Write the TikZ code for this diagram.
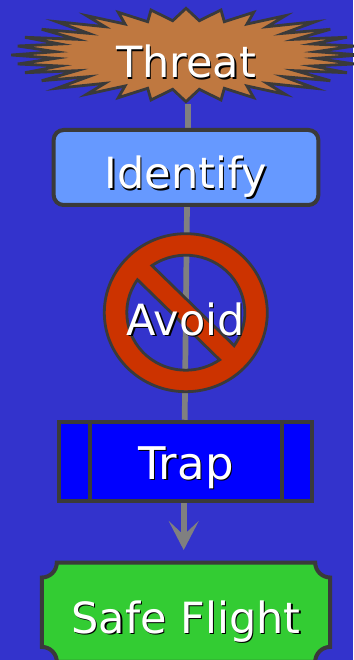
\documentclass[tikz,border=0pt]{standalone}
\usepackage{fontspec}
\setmainfont{DejaVu Sans}
\usetikzlibrary{arrows.meta,backgrounds}

\definecolor{skyback}{HTML}{3333CC}
\definecolor{edgedark}{HTML}{3A3A3A}
\definecolor{linkgray}{HTML}{808080}
\definecolor{threatfill}{HTML}{BF7840}
\definecolor{identifyfill}{HTML}{6699FF}
\definecolor{avoidfill}{HTML}{CC3300}
\definecolor{trapfill}{HTML}{0000FF}
\definecolor{safefill}{HTML}{33CC33}

% white label with a small black drop shadow
\newcommand{\droptext}[1]{\leavevmode\rlap{\hspace{1.4pt}\raisebox{-1.6pt}{\color{black}#1}}\color{white}#1}

\begin{document}
\begin{tikzpicture}[
        x=1pt,y=-1pt,
        stepnode/.style={inner sep=0pt,text depth=0pt,text height=#1,font=\fontsize{43}{50}\selectfont},
        link/.style={draw=linkgray,line width=5.7pt},
        arrowlink/.style={link,-{Stealth[length=29pt,width=30pt,inset=14pt]}},
        edge/.style={draw=edgedark,line width=4pt}
    ]

    \clip (0,0) rectangle (353,660);

    \node[stepnode=46pt,minimum width=300pt,minimum height=98pt] (threat) at (186,55) {\droptext{Threat}};
    \node[stepnode=43pt,edge,fill=identifyfill,rounded corners=10pt,minimum width=264.7pt,minimum height=75pt] (identify) at (186,167.5) {\droptext{Identify}};
    \node[stepnode=44.6pt,minimum width=150pt,minimum height=120pt] (avoid) at (185.8,312.7) {\droptext{Avoid}};
    \node[stepnode=35.4pt,edge,fill=trapfill,minimum width=253pt,minimum height=79.7pt] (trap) at (185.8,461.6) {\fontsize{45}{50}\selectfont\droptext{Trap}};
    \node[stepnode=42pt,minimum width=288pt,minimum height=99pt] (safe) at (186,612.2) {\droptext{Safe Flight}};
    \coordinate (tip) at (183.7,550);

    \draw[edge] ([xshift=-95.8pt]trap.north) -- ([xshift=-95.8pt]trap.south);
    \draw[edge] ([xshift=96.2pt]trap.north) -- ([xshift=96.2pt]trap.south);

    \begin{scope}[on background layer]
        \fill[skyback] (0,0) rectangle (353,660);

        \draw[link] ([xshift=2pt]threat.south) -- ([xshift=2pt]identify.north);
        \draw[link] ([xshift=1pt]identify.south) -- ([xshift=-1.1pt]trap.north);
        \draw[arrowlink] ([xshift=-2.1pt]trap.south) -- (tip);

        % burst behind the first label
        \draw[draw=edgedark,line width=2.8pt,fill=threatfill,shift={(threat.center)}]
            (0,-46.7) -- (13.3,-34.3) -- (35,-45) -- (38.3,-33.3) -- (67.7,-42.7) -- (61,-31) -- (99.3,-39.3) -- (81,-28.3)
            -- (129.3,-33.3) -- (97.7,-21.7) -- (144.3,-25.7) -- (109.3,-15.7) -- (161,-17.7) -- (126,-11) -- (168.3,-9) -- (130.3,-3.3)
            -- (174.7,0) -- (130.3,3.3) -- (168.3,9) -- (126,11) -- (161,17.7) -- (109.3,15.7) -- (144.3,25.7) -- (97.7,21.7)
            -- (129.3,33.3) -- (81,28.3) -- (99.3,39.3) -- (61,31) -- (67.7,42.7) -- (38.3,33.3) -- (35,45) -- (13.3,34.3)
            -- (0,46.7) -- (-13.3,34.3) -- (-35,45) -- (-38.3,33.3) -- (-67.7,42.7) -- (-61,31) -- (-99.3,39.3) -- (-81,28.3)
            -- (-129.3,33.3) -- (-97.7,21.7) -- (-144.3,25.7) -- (-109.3,15.7) -- (-161,17.7) -- (-126,11) -- (-168.3,9) -- (-130.3,3.3)
            -- (-174.7,0) -- (-130.3,-3.3) -- (-168.3,-9) -- (-126,-11) -- (-161,-17.7) -- (-109.3,-15.7) -- (-144.3,-25.7) -- (-97.7,-21.7)
            -- (-129.3,-33.3) -- (-81,-28.3) -- (-99.3,-39.3) -- (-61,-31) -- (-67.7,-42.7) -- (-38.3,-33.3) -- (-35,-45) -- (-13.3,-34.3)
            -- cycle;

        % ring and bar, with two holes
        \draw[draw=edgedark,line width=2.8pt,fill=avoidfill,even odd rule]
            (avoid.center) ellipse [x radius=81.5pt,y radius=79pt]
            (avoid.center) ++(125:59pt and 57.5pt) arc [start angle=125,end angle=-35,x radius=59pt,y radius=57.5pt] -- cycle
            (avoid.center) ++(145:59pt and 57.5pt) arc [start angle=145,end angle=305,x radius=59pt,y radius=57.5pt] -- cycle;

        % plaque with scooped corners
        \draw[edge,fill=safefill]
            ([xshift=15pt]safe.north west) -- ([xshift=-15pt]safe.north east)
            arc [start angle=180,end angle=270,radius=15pt]
            -- ([yshift=15pt]safe.south east)
            arc [start angle=90,end angle=180,radius=15pt]
            -- ([xshift=15pt]safe.south west)
            arc [start angle=0,end angle=90,radius=15pt]
            -- ([yshift=-15pt]safe.north west)
            arc [start angle=270,end angle=360,radius=15pt]
            -- cycle;
    \end{scope}

\end{tikzpicture}
\end{document}
